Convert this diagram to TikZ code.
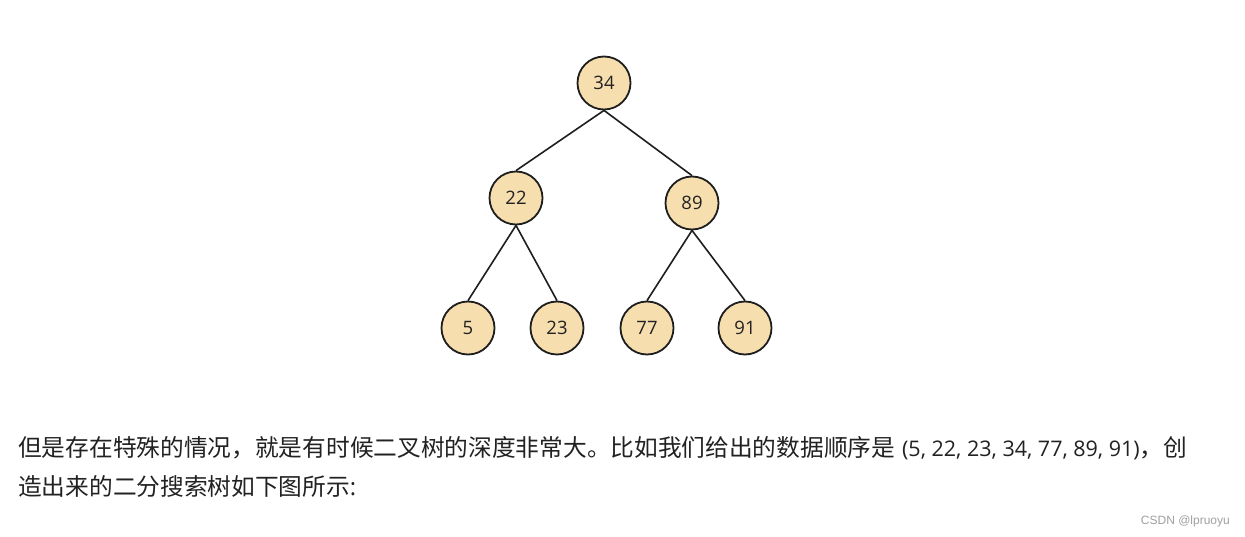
\documentclass[tikz,border=0pt]{standalone}
\usepackage{fontspec}
\setmainfont{Open Sans}
\newfontfamily\cjk{Noto Sans CJK SC}
\newfontfamily\latn{Open Sans}
\newfontfamily\wm{Liberation Sans}
\definecolor{nodefill}{HTML}{F6DEAF}
\definecolor{edge}{HTML}{1E1E1E}
\definecolor{txt}{HTML}{222222}
\definecolor{mark}{HTML}{A0A0A0}
\begin{document}
\begin{tikzpicture}[x=1pt,y=-1pt,
  tnode/.style={circle,draw=edge,fill=nodefill,line width=1.8pt,minimum size=53pt,inner sep=0pt,font=\latn\fontsize{18.5}{18.5}\selectfont,text=txt},
  tedge/.style={draw=edge,line width=1.6pt},
  para/.style={anchor=base west,inner sep=0pt,text=txt,font=\cjk\fontsize{23.7}{23.7}\selectfont}]
\useasboundingbox[fill=white] (0,0) rectangle (1245,537);
\node[tnode] (n34) at (604,83) {34};
\node[tnode] (n22) at (516,198) {22};
\node[tnode] (n89) at (692,203) {89};
\node[tnode] (n5) at (468,328) {5};
\node[tnode] (n23) at (557,328) {23};
\node[tnode] (n77) at (647,328) {77};
\node[tnode] (n91) at (745,328) {91};
\draw[tedge] (n34.south) -- (n22.north);
\draw[tedge] (n34.south) -- (n89.north);
\draw[tedge] (n22.south) -- (n5.north);
\draw[tedge] (n22.south) -- (n23.north);
\draw[tedge] (n89.south) -- (n77.north);
\draw[tedge] (n89.south) -- (n91.north);
\node[para] (l1) at (18,456) {但是存在特殊的情况，就是有时候二叉树的深度非常大。比如我们给出的数据顺序是\hspace{7pt}{\latn\fontsize{21.5}{21.5}\selectfont (5, 22, 23, 34, 77, 89, 91)}，创};
\node[para] (l2) at (18,495) {造出来的二分搜索树如下图所示{\latn :}};
\node[anchor=base east,inner sep=0pt,text=mark,font=\wm\fontsize{12}{12}\selectfont] (wm) at (1230,524) {CSDN @lpruoyu};
\end{tikzpicture}
\end{document}
